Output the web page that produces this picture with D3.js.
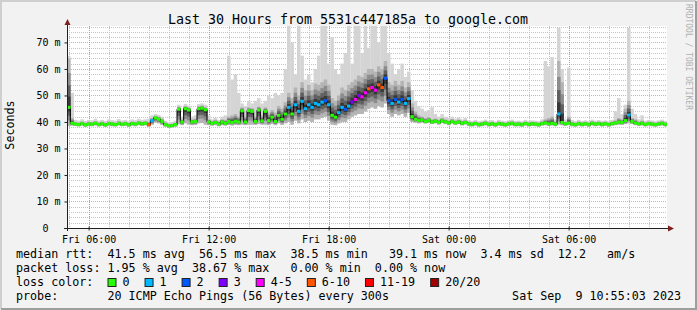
<!DOCTYPE html>
<html>
<head>
<meta charset="utf-8">
<script src="https://cdn.jsdelivr.net/npm/d3@7"></script>
<style>
  body { margin: 0; background: #fff; }
  svg text { font-family: 'DejaVu Sans Mono', monospace; white-space: pre; }
</style>
</head>
<body>
<svg id="chart"></svg>
<script>
// 10 minute bins, Fri Sep 8 2023 04:55:03 -> Sat Sep 9 2023 10:55:03
const startTime = new Date(2023, 8, 8, 4, 55, 3);
const endTime = new Date(2023, 8, 9, 10, 55, 3);
const stepMinutes = 10;

// median rtt (ms)
const medianRtt = [
  45.5, 39.5, 39.2, 39.0, 39.4, 38.9, 39.3, 39.1, 39.5, 39.0,
  39.3, 38.9, 39.4, 39.2, 39.0, 39.5, 39.1, 39.3, 38.9, 39.4,
  39.2, 39.6, 39.3, 39.5, 39.0, 40.5, 41.5, 41.0, 40.2, 39.0,
  38.5, 38.6, 39.0, 44.8, 40.0, 45.0, 44.5, 40.0, 40.2, 45.0,
  45.2, 44.6, 40.0, 39.4, 39.8, 39.2, 40.0, 39.5, 40.2, 39.8,
  40.3, 40.0, 44.2, 40.0, 44.3, 44.0, 40.2, 44.5, 40.4, 44.0,
  40.5, 41.8, 40.2, 42.5, 41.0, 43.0, 45.5, 43.0, 46.5, 44.0,
  47.8, 45.0, 46.5, 45.5, 47.0, 46.5, 47.5, 48.0, 46.5, 42.5,
  41.8, 43.5, 45.5, 44.8, 46.0, 47.5, 48.5, 50.0, 49.5, 51.0,
  52.5, 53.0, 52.0, 54.0, 53.0, 56.5, 48.0, 47.0, 48.5, 47.5,
  48.5, 47.0, 48.8, 42.0, 41.0, 40.5, 40.8, 40.2, 40.6, 40.0,
  40.3, 39.8, 40.5, 40.0, 39.6, 40.2, 39.7, 40.0, 39.5, 39.8,
  39.3, 39.1, 39.4, 39.0, 39.2, 39.5, 39.1, 39.3, 39.0, 39.4,
  39.2, 39.0, 39.3, 39.5, 39.1, 39.2, 39.0, 39.4, 39.1, 39.3,
  39.2, 39.0, 39.4, 39.6, 39.3, 39.5, 39.2, 43.0, 39.8, 39.3,
  39.6, 39.2, 39.0, 39.4, 39.1, 39.3, 39.0, 39.5, 39.2, 39.4,
  39.1, 39.3, 39.0, 39.4, 39.6, 40.0, 39.8, 40.5, 42.6, 40.2,
  39.6, 39.3, 39.5, 39.1, 39.4, 39.2, 39.0, 39.3, 39.5, 39.1
];

// fastest ping of each bin (ms)
const smokeLow = [
  38.5, 38.6, 38.5, 38.3, 38.6, 38.2, 38.5, 38.4, 38.7, 38.3,
  38.5, 38.2, 38.6, 38.4, 38.3, 38.7, 38.4, 38.5, 38.2, 38.6,
  38.4, 38.8, 38.5, 38.7, 38.2, 39.0, 39.8, 39.5, 38.9, 38.2,
  37.8, 37.9, 38.2, 39.2, 38.8, 39.5, 39.0, 38.8, 38.9, 39.5,
  39.6, 39.0, 38.8, 38.6, 38.8, 38.4, 38.8, 38.6, 38.9, 38.7,
  38.9, 38.8, 39.0, 38.8, 39.0, 39.0, 38.9, 39.2, 39.0, 39.0,
  38.8, 39.2, 38.8, 39.5, 38.9, 39.5, 40.0, 39.0, 40.5, 39.5,
  41.0, 40.0, 40.5, 40.0, 41.0, 41.0, 41.5, 42.0, 40.5, 39.0,
  38.8, 39.5, 40.0, 40.0, 41.0, 42.0, 42.5, 43.0, 43.0, 44.0,
  45.0, 45.5, 45.0, 46.0, 45.5, 47.0, 43.0, 42.0, 43.0, 42.5,
  43.0, 42.0, 43.5, 40.0, 39.8, 39.5, 39.8, 39.4, 39.6, 39.2,
  39.5, 39.0, 39.6, 39.2, 38.8, 39.4, 38.9, 39.2, 38.7, 39.0,
  38.5, 38.3, 38.6, 38.2, 38.4, 38.7, 38.3, 38.5, 38.2, 38.6,
  38.4, 38.2, 38.5, 38.7, 38.3, 38.4, 38.2, 38.6, 38.3, 38.5,
  38.4, 38.2, 38.6, 38.8, 38.5, 38.7, 38.4, 39.0, 38.8, 38.5,
  38.8, 38.4, 38.2, 38.6, 38.3, 38.5, 38.2, 38.7, 38.4, 38.6,
  38.3, 38.5, 38.2, 38.6, 38.8, 39.0, 38.9, 39.2, 39.5, 39.2,
  38.8, 38.5, 38.7, 38.3, 38.6, 38.4, 38.2, 38.5, 38.7, 38.3
];

// top of the dense (dark) part of the smoke (ms)
const smokeDark = [
  64.0, 41.5, 40.0, 39.8, 40.2, 39.7, 40.1, 39.9, 40.3, 39.8,
  40.1, 39.7, 40.2, 40.0, 39.8, 40.3, 39.9, 40.1, 39.7, 40.2,
  40.0, 40.4, 40.1, 40.3, 40.0, 41.5, 42.3, 42.0, 41.2, 39.8,
  39.2, 39.3, 39.8, 45.8, 41.0, 46.0, 45.5, 41.0, 41.2, 46.0,
  46.2, 45.6, 41.0, 40.4, 40.8, 40.2, 41.0, 40.8, 42.0, 42.5,
  43.0, 42.0, 45.5, 42.0, 45.5, 45.2, 42.0, 45.8, 42.5, 45.5,
  43.5, 44.5, 43.5, 46.0, 45.0, 47.5, 51.0, 49.0, 53.0, 50.0,
  55.0, 52.0, 54.0, 52.0, 54.5, 54.0, 55.0, 56.0, 54.0, 49.0,
  48.0, 50.0, 53.0, 52.0, 54.0, 55.0, 56.0, 57.5, 57.0, 58.5,
  60.0, 60.0, 59.0, 61.0, 60.0, 63.0, 55.0, 54.0, 55.5, 54.0,
  55.5, 53.0, 55.0, 47.0, 44.0, 42.5, 42.0, 41.5, 41.8, 41.0,
  41.3, 40.8, 41.5, 41.0, 40.5, 41.1, 40.6, 40.9, 40.4, 40.7,
  40.1, 39.9, 40.2, 39.8, 40.0, 40.3, 39.9, 40.1, 39.8, 40.2,
  40.0, 39.8, 40.1, 40.3, 39.9, 40.0, 39.8, 40.2, 39.9, 40.1,
  40.0, 39.8, 40.3, 41.0, 41.5, 42.0, 40.2, 63.0, 55.0, 40.1,
  42.0, 40.0, 39.8, 40.2, 39.9, 40.1, 39.8, 40.3, 40.0, 40.2,
  39.9, 40.1, 39.8, 40.2, 40.6, 41.5, 41.0, 45.0, 48.0, 41.5,
  41.0, 40.1, 40.5, 39.9, 40.2, 40.0, 39.8, 40.1, 40.3, 39.9
];

// slowest ping of each bin (ms)
const smokeHigh = [
  65.0, 51.0, 40.8, 40.5, 41.0, 40.4, 40.8, 40.6, 41.2, 40.5,
  40.8, 40.4, 41.0, 40.7, 40.5, 41.1, 40.6, 40.8, 40.3, 41.0,
  40.7, 41.2, 40.8, 41.0, 41.2, 42.5, 43.0, 42.7, 42.0, 40.5,
  39.8, 40.0, 40.5, 46.5, 42.0, 46.8, 46.2, 42.0, 42.5, 46.8,
  47.0, 46.5, 42.5, 41.0, 41.5, 40.8, 42.0, 42.5, 65.0, 56.0,
  58.0, 51.0, 47.0, 46.0, 48.0, 47.0, 48.0, 49.0, 47.0, 48.0,
  50.0, 49.0, 51.0, 50.0, 51.0, 60.0, 77.0, 70.0, 58.0, 77.0,
  65.0, 56.0, 58.0, 55.0, 60.0, 65.0, 77.0, 77.0, 62.0, 72.0,
  60.0, 58.0, 62.0, 66.0, 77.0, 62.0, 77.0, 77.0, 66.0, 77.0,
  68.0, 77.0, 77.0, 70.0, 77.0, 77.0, 66.0, 62.0, 58.0, 60.0,
  62.0, 57.0, 59.0, 52.0, 48.0, 46.0, 45.0, 44.0, 44.5, 45.6,
  43.0, 42.0, 43.0, 42.0, 41.5, 42.0, 41.3, 41.8, 41.0, 41.5,
  40.6, 40.4, 40.8, 40.3, 40.5, 40.9, 40.4, 40.7, 40.2, 40.8,
  40.5, 40.3, 40.6, 40.9, 40.4, 40.5, 40.3, 40.8, 40.4, 40.6,
  40.5, 40.3, 41.0, 63.0, 61.0, 64.5, 41.0, 75.5, 60.0, 41.0,
  60.5, 40.8, 40.3, 40.8, 40.4, 40.6, 40.3, 40.9, 40.5, 40.7,
  40.4, 40.6, 40.3, 40.8, 44.0, 49.0, 43.0, 46.5, 75.5, 45.0,
  43.0, 41.0, 42.5, 40.5, 40.8, 40.6, 40.3, 40.6, 40.9, 40.4
];

// loss colour class of each bin (index into lossLabels)
const lossLevel = [
  0, 0, 0, 0, 0, 0, 0, 0, 0, 0,
  0, 0, 0, 0, 0, 0, 0, 0, 0, 0,
  0, 0, 0, 0, 5, 1, 0, 0, 0, 0,
  0, 0, 0, 0, 0, 0, 0, 0, 0, 0,
  0, 0, 0, 0, 0, 0, 0, 0, 0, 0,
  0, 0, 0, 0, 0, 0, 0, 0, 0, 0,
  0, 0, 0, 0, 0, 0, 1, 0, 1, 1,
  1, 1, 1, 1, 1, 1, 1, 2, 1, 0,
  0, 1, 1, 2, 1, 3, 4, 3, 4, 4,
  5, 4, 4, 5, 5, 2, 2, 1, 2, 1,
  2, 1, 1, 0, 0, 0, 0, 0, 0, 0,
  0, 0, 0, 0, 0, 0, 0, 0, 0, 0,
  0, 0, 0, 0, 0, 0, 0, 0, 0, 0,
  0, 0, 0, 0, 0, 0, 0, 0, 0, 0,
  0, 0, 0, 0, 0, 0, 0, 1, 0, 0,
  0, 0, 0, 0, 0, 0, 0, 0, 0, 0,
  0, 0, 0, 0, 0, 0, 0, 0, 1, 0,
  0, 0, 0, 0, 0, 0, 0, 0, 0, 0
];

const lossLabels = ['0', '1', '2', '3', '4-5', '6-10', '11-19', '20/20'];
const lossColors = ['#26ff00', '#00b8ff', '#0059ff', '#7e00ff', '#ff00ff', '#ff5500', '#ff0000', '#a10000'];

const yTicks = [0, 10, 20, 30, 40, 50, 60, 70];

const titleText = 'Last 30 Hours from 5531c447185a to google.com';
const yLabelText = 'Seconds';
const watermarkText = 'RRDTOOL / TOBI OETIKER';
const legendLines = [
  'median rtt:  41.5 ms avg  56.5 ms max  38.5 ms min   39.1 ms now  3.4 ms sd  12.2   am/s',
  'packet loss: 1.95 % avg  38.67 % max   0.00 % min  0.00 % now',
  'loss color:',
  'probe:       20 ICMP Echo Pings (56 Bytes) every 300s'
];
const stampText = 'Sat Sep  9 10:55:03 2023';

// smoke shading: fraction of the spread around the median -> grey
const smokeShades = [
  { f: 1.0, color: '#b4b4b4' },
  { f: 0.7, color: '#8c8c8c' },
  { f: 0.45, color: '#606060' },
  { f: 0.22, color: '#383838' }
];

class SmokeChart {
  constructor(_config) {
    this.config = {
      parentElement: _config.parentElement,
      containerWidth: _config.containerWidth || 697,
      containerHeight: _config.containerHeight || 310,
      plot: { left: 67, right: 667, top: 26, bottom: 228 }
    };
    this.bins = medianRtt.map((d, i) => ({
      t0: d3.timeMinute.offset(startTime, i * stepMinutes),
      t1: d3.timeMinute.offset(startTime, (i + 1) * stepMinutes),
      med: d,
      lo: smokeLow[i],
      dark: smokeDark[i],
      hi: smokeHigh[i],
      loss: lossLevel[i]
    }));
    this.initVis();
    this.renderVis();
  }

  initVis() {
    let vis = this;
    const p = vis.config.plot;

    vis.svg = d3.select(vis.config.parentElement)
      .attr('width', vis.config.containerWidth)
      .attr('height', vis.config.containerHeight);

    // background with rrdtool style shading
    vis.svg.append('rect')
      .attr('width', vis.config.containerWidth)
      .attr('height', vis.config.containerHeight)
      .attr('fill', '#f2f2f2');
    vis.svg.append('path')
      .attr('d', `M1,${vis.config.containerHeight - 1}V1H${vis.config.containerWidth - 1}`)
      .attr('fill', 'none').attr('stroke', '#cfcfcf').attr('stroke-width', 2);
    vis.svg.append('path')
      .attr('d', `M1,${vis.config.containerHeight - 1}H${vis.config.containerWidth - 1}V1`)
      .attr('fill', 'none').attr('stroke', '#9e9e9e').attr('stroke-width', 2);

    vis.svg.append('rect')
      .attr('x', p.left).attr('y', p.top)
      .attr('width', p.right - p.left).attr('height', p.bottom - p.top)
      .attr('fill', '#ffffff');

    vis.xScale = d3.scaleTime()
      .domain([startTime, endTime])
      .range([p.left, p.right]);

    vis.yScale = d3.scaleLinear()
      .domain([0, 76.2])
      .range([p.bottom, p.top]);

    vis.svg.append('clipPath').attr('id', 'plot-clip')
      .append('rect')
      .attr('x', p.left).attr('y', p.top)
      .attr('width', p.right - p.left).attr('height', p.bottom - p.top);

    vis.gridGroup = vis.svg.append('g').attr('class', 'grid');
    vis.chart = vis.svg.append('g').attr('clip-path', 'url(#plot-clip)');
    vis.axisGroup = vis.svg.append('g').attr('class', 'axes');
    vis.textGroup = vis.svg.append('g').attr('class', 'texts');
  }

  renderVis() {
    let vis = this;
    const p = vis.config.plot;
    const x = vis.xScale;
    const y = vis.yScale;
    const binW = d => x(d.t1) - x(d.t0) + 0.2;

    // horizontal grid, every 2 ms
    const yMinor = d3.range(2, 77, 2);
    vis.gridGroup.selectAll('.hgrid')
      .data(yMinor)
      .join('line')
      .attr('class', 'hgrid')
      .attr('x1', p.left).attr('x2', p.right)
      .attr('y1', d => Math.round(y(d)) + 0.5)
      .attr('y2', d => Math.round(y(d)) + 0.5)
      .attr('stroke', d => d % 10 === 0 ? '#dcaaaa' : '#cdc2c2')
      .attr('stroke-dasharray', '1,1');

    // vertical grid, every hour
    const hours = x.ticks(d3.timeHour.every(1));
    vis.gridGroup.selectAll('.vgrid')
      .data(hours)
      .join('line')
      .attr('class', 'vgrid')
      .attr('x1', d => Math.round(x(d)) + 0.5)
      .attr('x2', d => Math.round(x(d)) + 0.5)
      .attr('y1', p.top).attr('y2', p.bottom)
      .attr('stroke', d => d.getHours() % 6 === 0 ? '#dc8c8c' : '#e3b5b5')
      .attr('stroke-dasharray', '1,1');

    // smoke: full spread in light grey
    vis.chart.selectAll('.smoke-light')
      .data(vis.bins)
      .join('rect')
      .attr('class', 'smoke-light')
      .attr('x', d => x(d.t0))
      .attr('width', binW)
      .attr('y', d => y(d.hi))
      .attr('height', d => y(d.lo) - y(d.hi))
      .attr('fill', '#d4d4d4');

    // denser part, darker towards the median
    smokeShades.forEach((s, k) => {
      vis.chart.selectAll('.smoke-' + k)
        .data(vis.bins)
        .join('rect')
        .attr('class', 'smoke-' + k)
        .attr('x', d => x(d.t0))
        .attr('width', binW)
        .attr('y', d => y(d.med + (d.dark - d.med) * s.f))
        .attr('height', d => y(d.med - (d.med - d.lo) * s.f) - y(d.med + (d.dark - d.med) * s.f))
        .attr('fill', s.color);
    });

    // median line (black steps)
    const steps = vis.bins.map(d => [x(d.t0), y(d.med)]);
    steps.push([x(endTime), y(vis.bins[vis.bins.length - 1].med)]);
    vis.chart.append('path')
      .attr('d', d3.line().curve(d3.curveStepAfter)(steps))
      .attr('fill', 'none')
      .attr('stroke', '#000')
      .attr('stroke-width', 1);

    // loss coloured marks on the median
    vis.chart.selectAll('.loss-mark')
      .data(vis.bins)
      .join('rect')
      .attr('class', 'loss-mark')
      .attr('x', d => x(d.t0))
      .attr('width', binW)
      .attr('y', d => y(d.med) - 1.5)
      .attr('height', 3)
      .attr('fill', d => lossColors[d.loss]);

    // y axis
    const yAxis = d3.axisLeft(y)
      .tickValues(yTicks)
      .tickSize(3)
      .tickPadding(4)
      .tickFormat(d => d === 0 ? '0  ' : d + ' m');
    const yAxisG = vis.axisGroup.append('g')
      .attr('transform', `translate(${p.left + 0.5},0)`)
      .call(yAxis);
    yAxisG.select('.domain').remove();
    yAxisG.selectAll('line').attr('stroke', '#202020');
    yAxisG.selectAll('text')
      .attr('font-size', '10px')
      .attr('fill', '#000')
      .attr('font-family', "'DejaVu Sans Mono', monospace");

    // x axis
    const xAxis = d3.axisBottom(x)
      .ticks(d3.timeHour.every(6))
      .tickSize(2)
      .tickPadding(5)
      .tickFormat(d3.timeFormat('%a %H:%M'));
    const xAxisG = vis.axisGroup.append('g')
      .attr('transform', `translate(0,${p.bottom + 0.5})`)
      .call(xAxis);
    xAxisG.select('.domain').remove();
    xAxisG.selectAll('line').attr('stroke', '#202020').attr('y1', -2);
    xAxisG.selectAll('text')
      .attr('font-size', '10px')
      .attr('fill', '#000')
      .attr('font-family', "'DejaVu Sans Mono', monospace");

    // axis lines and arrows
    vis.axisGroup.append('line')
      .attr('x1', p.left - 3).attr('x2', p.right + 3)
      .attr('y1', p.bottom + 0.5).attr('y2', p.bottom + 0.5)
      .attr('stroke', '#202020');
    vis.axisGroup.append('line')
      .attr('x1', p.left + 0.5).attr('x2', p.left + 0.5)
      .attr('y1', p.bottom + 3).attr('y2', p.top - 3)
      .attr('stroke', '#202020');
    vis.axisGroup.append('path')
      .attr('d', `M${p.right + 1},${p.bottom - 2.5}L${p.right + 7},${p.bottom + 0.5}L${p.right + 1},${p.bottom + 3.5}Z`)
      .attr('fill', '#7f1f1f');
    vis.axisGroup.append('path')
      .attr('d', `M${p.left - 2.5},${p.top - 1}L${p.left + 0.5},${p.top - 7}L${p.left + 3.5},${p.top - 1}Z`)
      .attr('fill', '#7f1f1f');

    // title, unit label, watermark
    vis.textGroup.append('text')
      .attr('x', 348).attr('y', 24)
      .attr('text-anchor', 'middle')
      .attr('font-size', '13.3px')
      .text(titleText);

    vis.textGroup.append('text')
      .attr('transform', 'translate(14,125) rotate(-90)')
      .attr('text-anchor', 'middle')
      .attr('font-size', '11.7px')
      .text(yLabelText);

    vis.textGroup.append('text')
      .attr('transform', 'translate(686,4) rotate(90)')
      .attr('font-size', '8px')
      .attr('fill', '#b0b0b0')
      .text(watermarkText);

    // legend
    const baselines = [257.5, 271.5, 285.5, 299.5];
    legendLines.forEach((line, i) => {
      vis.textGroup.append('text')
        .attr('x', 16).attr('y', baselines[i])
        .attr('font-size', '11.7px')
        .text(line);
    });

    let lx = 108;
    lossLabels.forEach((lab, i) => {
      vis.textGroup.append('rect')
        .attr('x', lx).attr('y', 278.5)
        .attr('width', 8).attr('height', 8)
        .attr('fill', lossColors[i])
        .attr('stroke', '#222')
        .attr('stroke-width', 1);
      const t = vis.textGroup.append('text')
        .attr('x', lx + 14.5).attr('y', baselines[2])
        .attr('font-size', '11.7px')
        .text(lab);
      lx += 14.5 + t.node().getComputedTextLength() + 15.5;
    });

    vis.textGroup.append('text')
      .attr('x', 681).attr('y', baselines[3])
      .attr('text-anchor', 'end')
      .attr('font-size', '11.7px')
      .text(stampText);
  }
}

new SmokeChart({ parentElement: '#chart', containerWidth: 697, containerHeight: 310 });
</script>
</body>
</html>
